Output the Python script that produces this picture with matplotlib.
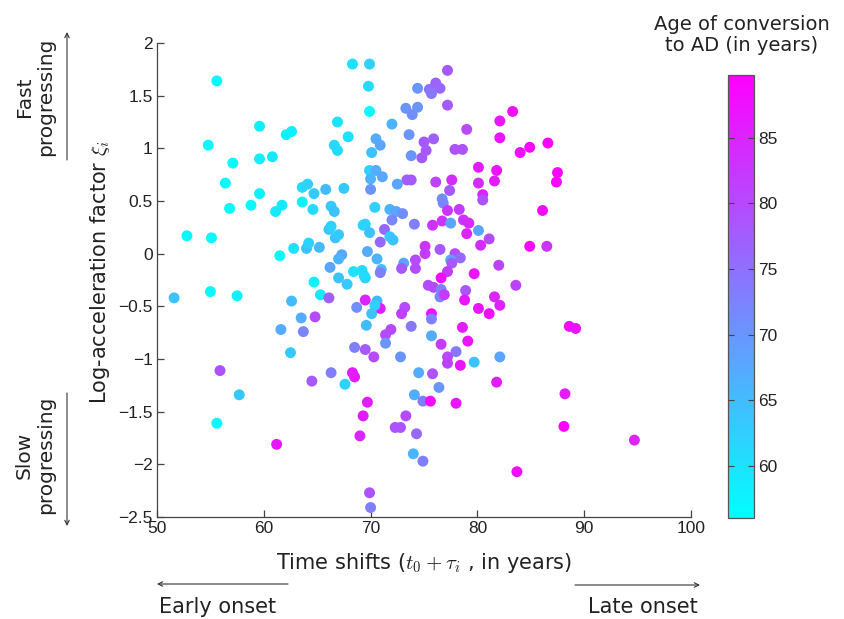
import matplotlib
matplotlib.use("Agg")
import matplotlib.pyplot as plt
import numpy as np

# time shift (years), log-acceleration factor, age of conversion (years)
time_shift = [
    51.6, 52.8, 54.8, 55.1, 55.0, 55.6, 55.6, 55.9, 57.1, 56.4,
    59.6, 62.1, 62.6, 59.6, 60.8, 59.6, 66.9, 66.6, 66.9, 63.6,
    64.1, 64.7, 65.8, 56.8, 58.8, 61.1, 61.7, 63.6, 64.6, 66.3,
    66.6, 66.1, 66.3, 66.7, 62.8, 64.0, 64.2, 65.2, 61.5, 66.2,
    64.7, 65.3, 66.1, 57.5, 62.6, 63.5, 64.8, 61.6, 63.7, 62.5,
    57.7, 61.2, 64.5, 66.3,
    68.3, 69.9, 69.8, 69.9, 67.9, 72.0, 70.5, 70.9, 70.1, 73.6,
    73.8, 73.3, 73.9, 74.4, 74.4, 75.5, 76.1, 75.7, 76.5, 77.2,
    77.2, 75.0, 75.9, 75.2, 74.8, 77.9, 78.6, 79.0, 82.1, 83.3,
    82.1, 84.0, 84.9, 86.6, 87.5, 87.4, 80.1, 81.8, 80.1, 81.6,
    80.5, 67.5, 69.9, 70.5, 70.0, 71.1, 70.0, 72.5, 73.4, 73.8,
    76.1, 77.6, 77.4, 76.7,
    70.4, 71.8, 72.4, 73.0, 72.0, 74.1, 76.8, 77.2, 78.3, 78.7,
    79.2, 75.8, 76.7, 77.5, 79.0, 80.1, 81.1, 80.3, 80.5, 69.5,
    69.3, 69.9, 67.0, 71.3, 70.9, 71.8, 72.1, 69.7, 70.6, 71.0,
    70.9, 67.3, 67.0, 68.4, 69.2, 69.5, 69.4, 67.0, 67.8, 73.1,
    72.9, 74.2, 74.2, 75.1, 75.1, 76.5, 77.9, 78.4, 77.5, 77.6,
    77.2, 76.6, 79.7, 82.0, 83.6, 75.4, 75.9, 76.6, 76.5, 76.9,
    78.9, 78.8, 81.6, 82.1, 80.1, 81.1, 69.5, 70.6, 70.9, 70.4,
    68.7, 70.1, 73.2, 72.9, 69.6, 73.8, 75.7, 75.7, 71.9, 71.4,
    78.6, 75.7, 79.1, 76.6, 71.4, 68.5, 69.5, 78.0, 70.3, 72.8,
    77.2, 82.1, 79.7,
    77.2, 78.4, 68.3, 68.5, 67.6, 74.5, 75.8, 76.4, 74.1, 74.9,
    75.6, 78.0, 81.8, 69.7, 69.3, 73.3, 72.3, 72.8, 69.0, 74.3,
    74.0, 74.9, 83.7, 69.9, 70.0,
    88.2, 88.1, 94.7, 86.1, 84.9, 86.5, 88.6, 89.2,
]
log_accel = [
    -0.42, 0.17, 1.03, 0.15, -0.36, 1.64, -1.61, -1.11, 0.86, 0.67,
    1.21, 1.13, 1.16, 0.90, 0.92, 0.57, 1.25, 1.03, 0.98, 0.63,
    0.66, 0.57, 0.61, 0.43, 0.46, 0.40, 0.46, 0.49, 0.42, 0.45,
    0.40, 0.23, 0.26, 0.15, 0.05, 0.05, 0.10, 0.06, -0.02, -0.13,
    -0.27, -0.39, -0.42, -0.40, -0.45, -0.61, -0.60, -0.72, -0.74, -0.94,
    -1.34, -1.81, -1.21, -1.13,
    1.80, 1.80, 1.59, 1.35, 1.11, 1.23, 1.09, 1.03, 0.96, 1.13,
    0.93, 1.38, 1.32, 1.39, 1.57, 1.56, 1.62, 1.52, 1.57, 1.74,
    1.41, 1.06, 1.09, 0.98, 0.91, 0.99, 0.99, 1.18, 1.26, 1.35,
    1.10, 0.96, 1.01, 1.05, 0.77, 0.68, 0.82, 0.79, 0.67, 0.69,
    0.56, 0.62, 0.79, 0.79, 0.71, 0.73, 0.61, 0.66, 0.70, 0.70,
    0.68, 0.70, 0.60, 0.52,
    0.44, 0.42, 0.40, 0.38, 0.32, 0.28, 0.48, 0.41, 0.42, 0.32,
    0.29, 0.27, 0.31, 0.29, 0.19, 0.22, 0.14, 0.08, 0.51, 0.28,
    0.27, 0.20, 0.18, 0.23, 0.11, 0.16, 0.13, 0.02, -0.05, -0.15,
    -0.18, -0.01, -0.05, -0.17, -0.16, -0.23, -0.21, -0.23, -0.29, -0.09,
    -0.14, -0.06, -0.14, 0.07, 0.00, 0.04, 0.00, -0.04, -0.06, -0.09,
    -0.17, -0.23, -0.19, -0.11, -0.30, -0.30, -0.32, -0.34, -0.41, -0.39,
    -0.35, -0.44, -0.41, -0.49, -0.52, -0.57, -0.44, -0.45, -0.52, -0.49,
    -0.51, -0.57, -0.51, -0.57, -0.68, -0.69, -0.57, -0.62, -0.72, -0.77,
    -0.70, -0.78, -0.83, -0.86, -0.85, -0.89, -0.91, -0.93, -0.98, -0.98,
    -0.98, -0.98, -1.03,
    -1.04, -1.06, -1.13, -1.17, -1.24, -1.13, -1.14, -1.27, -1.34, -1.40,
    -1.40, -1.42, -1.22, -1.41, -1.54, -1.54, -1.65, -1.65, -1.73, -1.71,
    -1.90, -1.97, -2.07, -2.27, -2.41,
    -1.33, -1.64, -1.77, 0.41, 0.07, 0.07, -0.69, -0.71,
]
age_conversion = [
    64, 57, 57, 57, 57, 57, 57, 79, 57, 57,
    58, 58, 58, 58, 59, 58, 60, 61, 61, 61,
    62, 63, 65, 57, 57, 59, 59, 58, 61, 63,
    64, 63, 62, 64, 60, 64, 62, 65, 57, 68,
    58, 59, 77, 58, 65, 67, 80, 67, 72, 63,
    63, 87, 78, 73,
    60, 62, 61, 57, 60, 66, 67, 68, 64, 70,
    70, 70, 71, 70, 70, 75, 77, 74, 76, 78,
    78, 78, 77, 78, 78, 79, 79, 80, 87, 88,
    87, 88, 89, 89, 89, 89, 86, 87, 84, 86,
    85, 63, 62, 67, 66, 68, 70, 68, 77, 78,
    81, 84, 78, 71,
    62, 66, 68, 71, 72, 73, 72, 83, 82, 83,
    84, 83, 83, 68, 85, 68, 80, 84, 79, 61,
    62, 64, 63, 76, 76, 63, 64, 67, 66, 65,
    73, 68, 66, 60, 61, 62, 61, 64, 63, 68,
    78, 80, 80, 83, 82, 78, 80, 76, 68, 78,
    82, 88, 87, 81, 81, 80, 80, 73, 72, 82,
    78, 87, 85, 85, 87, 88, 85, 66, 86, 62,
    71, 64, 80, 81, 65, 74, 88, 73, 80, 80,
    86, 67, 87, 82, 70, 73, 78, 74, 80, 70,
    80, 68, 64,
    81, 87, 86, 86, 62, 67, 79, 70, 67, 73,
    88, 87, 86, 86, 86, 80, 79, 79, 85, 76,
    66, 73, 88, 79, 73,
    86, 89, 85, 88, 89, 83, 88, 87,
]

W, H = 845, 619
fig = plt.figure(figsize=(W / 100, H / 100), dpi=100)
plt.rcParams["mathtext.fontset"] = "cm"

TICK_FONT = "Liberation Sans"
LABEL_FONT = "DejaVu Sans"
INK = "#222222"

ax = fig.add_axes([157 / W, 1 - 517 / H, 534 / W, 474 / H])
sc = ax.scatter(time_shift, log_accel, c=age_conversion, cmap="cool",
                vmin=56.0, vmax=89.8, s=62, linewidths=0, zorder=3)

ax.set_xlim(50, 100)
ax.set_ylim(-2.5, 2)
ax.set_xticks(np.arange(50, 101, 10))
ax.set_yticks(np.arange(-2.5, 2.01, 0.5))
ax.set_yticklabels(["\u22122.5", "\u22122", "\u22121.5", "\u22121", "\u22120.5",
                    "0", "0.5", "1", "1.5", "2"])
for side in ("top", "right"):
    ax.spines[side].set_visible(False)
for side in ("left", "bottom"):
    ax.spines[side].set_color("#444444")
    ax.spines[side].set_linewidth(0.9)
ax.tick_params(direction="in", length=5, width=0.9, color="#444444",
               labelsize=12.5, labelcolor=INK, pad=3)
for lab in ax.get_xticklabels() + ax.get_yticklabels():
    lab.set_fontfamily(TICK_FONT)

# colorbar
cax = fig.add_axes([728 / W, 1 - 518 / H, 26 / W, 443 / H])
cb = fig.colorbar(sc, cax=cax, ticks=[60, 65, 70, 75, 80, 85])
cb.outline.set_edgecolor("#555555")
cb.outline.set_linewidth(0.9)
cax.tick_params(direction="in", length=4, width=0.8, color="#444444",
                labelsize=12.5, labelcolor=INK, left=True, right=True, pad=3)
for lab in cax.get_yticklabels():
    lab.set_fontfamily(TICK_FONT)

fig.text(742 / W, 1 - 35 / H, "Age of conversion\nto AD (in years)",
         ha="center", va="center", multialignment="center",
         fontsize=14, family=LABEL_FONT, color=INK, linespacing=1.15)

# axis labels
fig.text(424 / W, 1 - 563 / H, r"Time shifts ($t_0 + \tau_i$ , in years)",
         ha="center", va="center", fontsize=15, family=LABEL_FONT, color=INK)
fig.text(100 / W, 1 - 272 / H, r"Log-acceleration factor $\xi_i$",
         ha="center", va="center", rotation=90, fontsize=15,
         family=LABEL_FONT, color=INK)

# progression annotations on the left
fig.text(35 / W, 1 - 97 / H, "Fast\nprogressing", ha="center", va="center",
         rotation=90, multialignment="center", fontsize=14.5,
         family=LABEL_FONT, color=INK, linespacing=1.2)
fig.text(35 / W, 1 - 455 / H, "Slow\nprogressing", ha="center", va="center",
         rotation=90, multialignment="center", fontsize=14.5,
         family=LABEL_FONT, color=INK, linespacing=1.2)

arrow = dict(arrowstyle="->", lw=0.8, color="#333333", mutation_scale=8,
             shrinkA=0, shrinkB=0)
fig.add_artist(plt.Annotation("", xy=(67, H - 32), xytext=(67, H - 160),
                              xycoords="figure pixels", arrowprops=arrow))
fig.add_artist(plt.Annotation("", xy=(67, H - 526), xytext=(67, H - 393),
                              xycoords="figure pixels", arrowprops=arrow))

# onset annotations below
fig.add_artist(plt.Annotation("", xy=(157, H - 584), xytext=(288, H - 584),
                              xycoords="figure pixels", arrowprops=arrow))
fig.add_artist(plt.Annotation("", xy=(700, H - 585), xytext=(575, H - 585),
                              xycoords="figure pixels", arrowprops=arrow))
fig.text(218 / W, 1 - 607 / H, "Early onset", ha="center", va="center",
         fontsize=15, family=LABEL_FONT, color=INK)
fig.text(643 / W, 1 - 607 / H, "Late onset", ha="center", va="center",
         fontsize=15, family=LABEL_FONT, color=INK)

fig.savefig("out.png", dpi=100, facecolor="white")
